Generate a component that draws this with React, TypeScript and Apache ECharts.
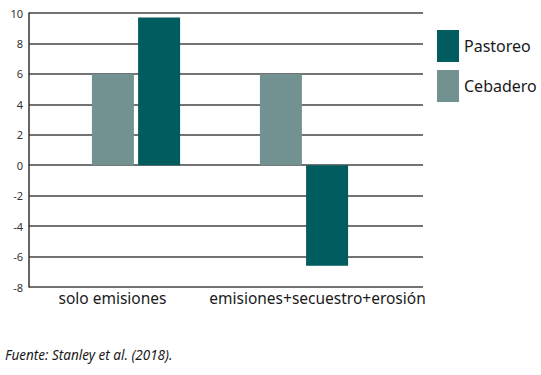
import React, { useEffect, useRef } from "react";
import * as echarts from "echarts";

const categories = ["solo emisiones", "emisiones+secuestro+erosión"];
const cebadero = [6, 6];
const pastoreo = [9.7, -6.6];
const yTicks = { min: -8, max: 10, interval: 2 };
const source = "Fuente: Stanley et al. (2018).";

const COLOR_PASTOREO = "#015c5f";
const COLOR_CEBADERO = "#729291";
const FONT = "'Noto Sans', sans-serif";

export default function App() {
  const ref = useRef<HTMLDivElement>(null);
  useEffect(() => {
    if (!ref.current) return;
    const chart = echarts.init(ref.current, null, { renderer: "svg" });
    const top = 13;
    const bottom = 375 - 287;
    chart.setOption({
      animation: false,
      backgroundColor: "#ffffff",
      textStyle: { fontFamily: FONT },
      legend: {
        data: ["Pastoreo", "Cebadero"],
        orient: "vertical",
        left: 432,
        top: 25,
        itemWidth: 22,
        itemHeight: 32,
        itemGap: 8,
        icon: "rect",
        textStyle: { fontSize: 16, color: "#1a1a1a", fontFamily: FONT },
      },
      grid: [
        { left: 29, right: 541 - 423, top, bottom },
        { left: 52, width: 336, top, bottom },
        { left: 10, width: 410, top, bottom },
      ],
      xAxis: [
        {
          type: "category",
          gridIndex: 0,
          data: categories,
          axisLine: { show: false },
          axisTick: { show: false },
          axisLabel: { show: false },
        },
        {
          type: "category",
          gridIndex: 1,
          data: categories,
          show: false,
        },
        {
          type: "category",
          gridIndex: 2,
          data: categories,
          axisLine: { show: false },
          axisTick: { show: false },
          axisLabel: {
            show: true,
            interval: 0,
            hideOverlap: false,
            margin: 3,
            fontSize: 15.5,
            color: "#1a1a1a",
            fontFamily: FONT,
          },
        },
      ],
      yAxis: [
        {
          type: "value",
          gridIndex: 0,
          min: yTicks.min,
          max: yTicks.max,
          interval: yTicks.interval,
          axisLine: { show: true, onZero: false, lineStyle: { color: "#333", width: 1.5 } },
          axisTick: { show: false },
          axisLabel: { margin: 6, fontSize: 11, color: "#333", fontFamily: FONT },
          splitLine: { show: true, lineStyle: { color: "#444", width: 1.6 } },
        },
        {
          type: "value",
          gridIndex: 1,
          min: yTicks.min,
          max: yTicks.max,
          interval: yTicks.interval,
          show: false,
          splitLine: { show: false },
        },
        {
          type: "value",
          gridIndex: 2,
          min: yTicks.min,
          max: yTicks.max,
          interval: yTicks.interval,
          show: false,
          splitLine: { show: false },
        },
      ],
      series: [
        {
          name: "Cebadero",
          type: "bar",
          xAxisIndex: 1,
          yAxisIndex: 1,
          data: cebadero,
          barWidth: 42,
          barGap: "10%",
          itemStyle: { color: COLOR_CEBADERO },
        },
        {
          name: "Pastoreo",
          type: "bar",
          xAxisIndex: 1,
          yAxisIndex: 1,
          data: pastoreo,
          barWidth: 42,
          barGap: "10%",
          itemStyle: { color: COLOR_PASTOREO },
        },
        {
          name: "_labels",
          type: "line",
          xAxisIndex: 2,
          yAxisIndex: 2,
          data: [],
          silent: true,
        },
        {
          name: "_grid",
          type: "line",
          xAxisIndex: 0,
          yAxisIndex: 0,
          data: [],
          silent: true,
        },
      ],
      graphic: [
        {
          type: "text",
          left: 5,
          top: 348,
          style: {
            text: source,
            fontSize: 13.5,
            fontStyle: "italic",
            fontFamily: FONT,
            fill: "#1a1a1a",
          },
        },
      ],
    });
    return () => chart.dispose();
  }, []);
  return (
    <div
      ref={ref}
      style={{ position: "fixed", left: 0, top: 0, width: 541, height: 375 }}
    />
  );
}
